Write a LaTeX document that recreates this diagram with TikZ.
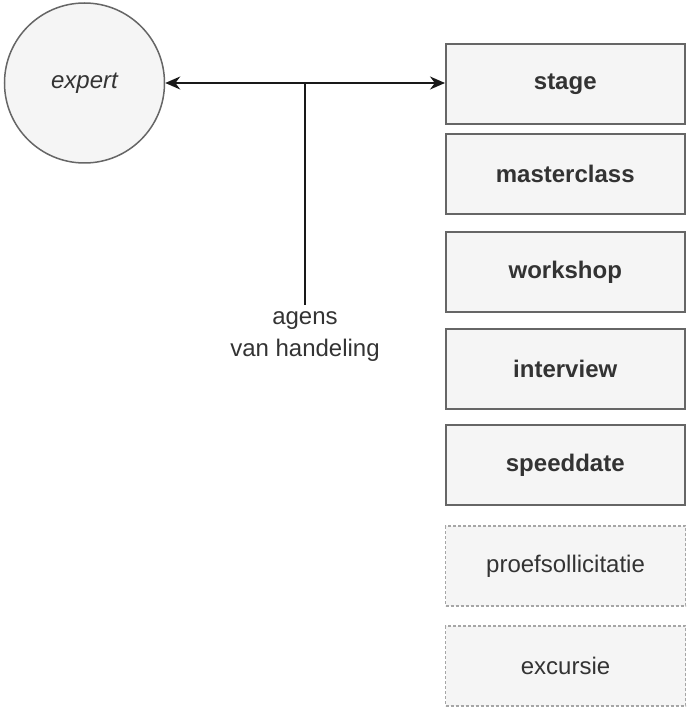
\documentclass[tikz,border=0pt]{standalone}
\usepackage{fontspec}
\setmainfont{Liberation Sans}
\usetikzlibrary{arrows.meta}
\definecolor{boxfill}{HTML}{F5F5F5}
\definecolor{boxline}{HTML}{666666}
\definecolor{txt}{HTML}{333333}
\definecolor{dashline}{HTML}{A6A6A6}
\tikzset{
  solidbox/.style={rectangle, draw=boxline, fill=boxfill, line width=1.5pt,
    minimum width=239pt, minimum height=80pt, inner sep=0pt, anchor=west,
    text=txt, font=\fontsize{24}{29}\selectfont\bfseries},
  dashbox/.style={rectangle, draw=dashline, fill=boxfill, line width=1.1pt,
    dash pattern=on 3pt off 2pt,
    minimum width=240pt, minimum height=80pt, inner sep=0pt, anchor=west,
    text=txt, font=\fontsize{24}{29}\selectfont},
  expertnode/.style={circle, draw=boxline, fill=boxfill, line width=1.5pt,
    minimum size=160pt, inner sep=0pt, text=txt,
    font=\fontsize{24}{29}\selectfont\itshape},
  conn/.style={draw=black!90, line width=1.8pt},
  lbl/.style={align=center, inner xsep=0pt, inner ysep=6pt, text=txt,
    font=\fontsize{24}{32}\selectfont}
}
\begin{document}
\begin{tikzpicture}[x=1pt,y=-1pt]
\useasboundingbox (0,0) rectangle (686,708);
\node[expertnode] (expert) at (84.5,83) {expert};
\node[solidbox] (stage) at (445,84) {stage};
\node[solidbox] (masterclass) at (445,174) {masterclass};
\node[solidbox] (workshop) at (445,272) {workshop};
\node[solidbox] (interview) at (445,369) {interview};
\node[solidbox] (speeddate) at (445,465) {speeddate};
\node[dashbox] (proef) at (445,566) {proefsollicitatie};
\node[dashbox] (excursie) at (445,666) {excursie};
\node[lbl, anchor=north] (agens) at (305,305) {agens\\van handeling};
\coordinate (junction) at (305,83);
\draw[conn, {Stealth[length=15pt,width=13pt]}-{Stealth[length=15pt,width=13pt]}] (expert.east) -- (expert.east -| stage.west);
\draw[conn] (junction) -- (junction |- agens.north);
\end{tikzpicture}
\end{document}
